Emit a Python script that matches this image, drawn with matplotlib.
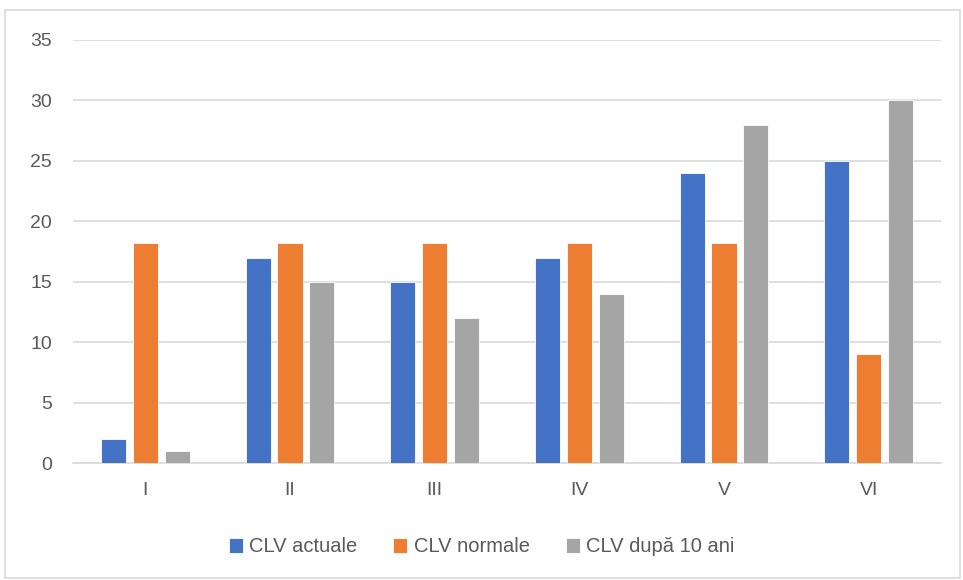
import numpy as np
import matplotlib.pyplot as plt
from matplotlib.patches import Rectangle

categories = ["I", "II", "III", "IV", "V", "VI"]
clv_actuale = [2, 17, 15, 17, 24, 25]
clv_normale = [18.2, 18.2, 18.2, 18.2, 18.2, 9]
clv_dupa = [1, 15, 12, 14, 28, 30]

series = [
    ("CLV actuale", clv_actuale, "#4472C4"),
    ("CLV normale", clv_normale, "#ED7D31"),
    ("CLV după 10 ani", clv_dupa, "#A5A5A5"),
]

plt.rcParams["font.family"] = ["Liberation Sans", "DejaVu Sans"]

fig = plt.figure(figsize=(9.63, 5.8), dpi=100)
ax = fig.add_axes([73 / 963, 1 - 463 / 580, (941 - 73) / 963, (463 - 40) / 580])

x = np.arange(len(categories))
width = 0.173
step = 0.221
for i, (label, vals, color) in enumerate(series):
    ax.bar(x + (i - 1) * step, vals, width, color=color, label=label,
           edgecolor="white", linewidth=0.6, zorder=3)

ax.set_xlim(-0.5, len(categories) - 0.5)
ax.set_ylim(0, 35)
ax.set_yticks(range(0, 36, 5))
ax.set_xticks(x)
ax.set_xticklabels(categories)
ax.grid(axis="y", color="#D9D9D9", linewidth=1.2, zorder=0)
for s in ["top", "right", "left"]:
    ax.spines[s].set_visible(False)
ax.spines["bottom"].set_color("#D9D9D9")
ax.spines["bottom"].set_linewidth(1.2)
ax.tick_params(axis="both", length=0, labelsize=14, colors="#595959")
ax.tick_params(axis="y", pad=15)
ax.tick_params(axis="x", pad=14)

leg = fig.legend(loc="center", bbox_to_anchor=(0.5, 1 - 547 / 580), ncol=3,
                 frameon=False, fontsize=14.5, handlelength=0.7, handleheight=0.7,
                 columnspacing=1.8, handletextpad=0.3)
for t in leg.get_texts():
    t.set_color("#595959")

fig.patches.append(Rectangle((5 / 963, 2 / 580), 955 / 963, 568 / 580,
                             transform=fig.transFigure, fill=False,
                             edgecolor="#D9D9D9", linewidth=1.2))

fig.savefig("out.png", dpi=100)
